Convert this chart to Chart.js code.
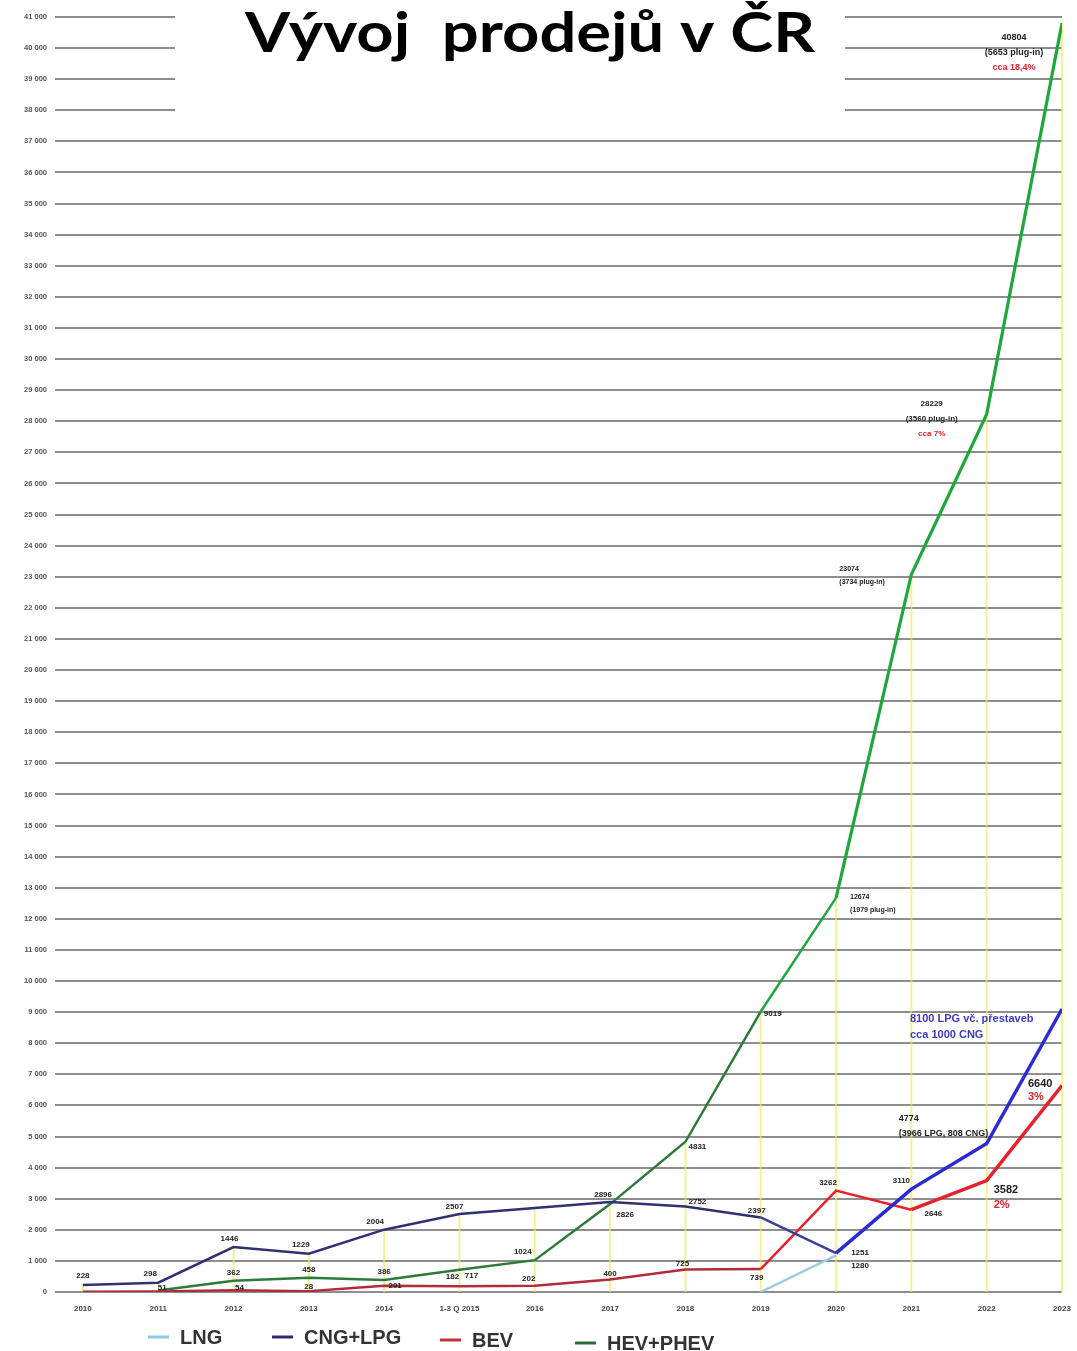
<!DOCTYPE html>
<html lang="cs">
<head>
    <meta charset="UTF-8">
    <title>Vývoj prodejů v ČR</title>
    <script src="https://cdn.jsdelivr.net/npm/chart.js"></script>
    <style>
        html, body { margin: 0; padding: 0; background: #fff; }
        #wrap { width: 1077px; height: 1351px; position: relative; }
    </style>
</head>
<body>
<div id="wrap"><canvas id="salesChart"></canvas></div>
<script>
    // categories
    const years = ['2010', '2011', '2012', '2013', '2014', '1-3 Q 2015', '2016', '2017', '2018', '2019', '2020', '2021', '2022', '2023'];

    // series values
    const lng    = [null, null, null, null, null, null, null, null, null, 0, 1180, null, null, null];
    const cngLpg = [228, 298, 1446, 1229, 2004, 2507, 2700, 2896, 2752, 2397, 1251, 3310, 4774, 9100];
    const bev    = [10, 20, 54, 28, 201, 182, 202, 400, 725, 739, 3262, 2646, 3582, 6640];
    const hev    = [null, 51, 362, 458, 386, 717, 1024, 2826, 4831, 9019, 12674, 23074, 28229, 40804];

    // texts written next to the points
    const lngLabels = [null, null, null, null, null, null, null, null, null, null, '1280', null, null, null];
    const cngLabels = ['228', '298', '1446', '1229', '2004', '2507', null, '2896', '2752', '2397', '1251', '3110',
        '4774\n(3966 LPG, 808 CNG)', '8100 LPG vč. přestaveb\ncca 1000 CNG'];
    const bevLabels = [null, null, '54', '28', '201', '182', '202', '400', '725', '739', '3262', '2646',
        '3582\n2%', '6640\n3%'];
    const hevLabels = [null, '51', '362', '458', '386', '717', '1024', '2826', '4831', '9019',
        '12674\n(1979 plug-in)', '23074\n(3734 plug-in)', '28229\n(3560 plug-in)\ncca 7%', '40804\n(5653 plug-in)\ncca 18,4%'];

    const seriesNames = ['LNG', 'CNG+LPG', 'BEV', 'HEV+PHEV'];
    const title = 'Vývoj  prodejů v ČR';

    const toPts = arr => arr.map((v, i) => ({ x: i, y: v }));

    // label placement: [dx, dy, align, fontSize, lineHeight, color]
    const place = {
        0: { 10: [24, 10] },
        1: { 0: [0, -9], 1: [-8, -9], 2: [-4, -8], 3: [-8, -9], 4: [-9, -8], 5: [-5, -7], 7: [-7, -7],
             8: [12, -5], 9: [-4, -7], 10: [24, 0], 11: [-10, -8],
             12: [-88, -25, 'left', 9, 15], 13: [-152, 10, 'left', 11, 16, '#3b3bc4'] },
        2: { 2: [6, -3], 3: [0, -4], 4: [11, 0], 5: [-7, -10], 6: [-6, -7], 7: [0, -6], 8: [-3, -6],
             9: [-4, 9], 10: [-8, -8], 11: [22, 4], 12: [7, 9, 'left', 11, 15], 13: [-34, -2, 'left', 11, 13] },
        3: { 1: [4, -3], 2: [0, -8], 3: [0, -8], 4: [0, -8], 5: [12, 6], 6: [-12, -8], 7: [15, 11],
             8: [12, 5], 9: [12, 2], 10: [14, -1, 'left', 7, 13], 11: [-72, -5, 'left', 7, 13],
             12: [-55, -10, 'center', 8, 15], 13: [-48, 14, 'center', 9, 15] }
    };
    const allLabels = [lngLabels, cngLabels, bevLabels, hevLabels];

    const dropLines = {
        id: 'dropLines',
        beforeDatasetsDraw(chart) {
            const { ctx, scales: { x, y }, chartArea } = chart;
            ctx.save();
            ctx.strokeStyle = 'rgba(240, 234, 90, 0.65)';
            ctx.lineWidth = 2;
            years.forEach((_, i) => {
                const vals = [lng[i], cngLpg[i], bev[i], hev[i]].filter(v => v !== null);
                const top = Math.max(...vals);
                const px = x.getPixelForValue(i);
                ctx.beginPath();
                ctx.moveTo(px, y.getPixelForValue(top));
                ctx.lineTo(px, chartArea.bottom);
                ctx.stroke();
            });
            // title box covering the grid
            ctx.fillStyle = '#fff';
            ctx.fillRect(175, 0, 670, 112);
            ctx.fillStyle = '#000';
            ctx.font = 'bold 55px Lato';
            const w = ctx.measureText(title).width;
            ctx.translate(530, 52);
            ctx.scale(570 / w, 1);
            ctx.textAlign = 'center';
            ctx.textBaseline = 'alphabetic';
            ctx.fillText(title, 0, 0);
            ctx.restore();
        }
    };

    const pointTexts = {
        id: 'pointTexts',
        afterDatasetsDraw(chart) {
            const ctx = chart.ctx;
            ctx.save();
            allLabels.forEach((labels, ds) => {
                const meta = chart.getDatasetMeta(ds);
                labels.forEach((txt, i) => {
                    if (!txt) return;
                    const el = meta.data[i];
                    const p = (place[ds] && place[ds][i]) || [0, -8];
                    const [dx, dy, align = 'center', size = 8, lh = 12, color = '#222'] = p;
                    ctx.textAlign = align;
                    ctx.textBaseline = 'middle';
                    txt.split('\n').forEach((line, k) => {
                        ctx.fillStyle = line.includes('%') ? '#e0202a' : color;
                        ctx.font = 'bold ' + size + 'px "Liberation Sans", Arial, sans-serif';
                        ctx.fillText(line, el.x + dx, el.y + dy + k * lh);
                    });
                });
            });
            ctx.restore();
        },
        afterDraw(chart) {
            // legend under the axis
            const ctx = chart.ctx;
            const xs = [148, 272, 440, 575];
            const ys = [1337, 1337, 1340, 1343];
            const cols = ['#8ec9e8', '#2b2d6e', '#c0303a', '#2e6b35'];
            ctx.save();
            ctx.font = 'bold 20px "Liberation Sans", Arial, sans-serif';
            ctx.textBaseline = 'middle';
            ctx.textAlign = 'left';
            seriesNames.forEach((name, k) => {
                ctx.strokeStyle = cols[k];
                ctx.lineWidth = 3;
                ctx.beginPath();
                ctx.moveTo(xs[k], ys[k]);
                ctx.lineTo(xs[k] + 21, ys[k]);
                ctx.stroke();
                ctx.fillStyle = '#333';
                ctx.fillText(name, xs[k] + 32, ys[k] + 1);
            });
            ctx.restore();
        }
    };

    new Chart(document.getElementById('salesChart'), {
        type: 'line',
        data: {
            datasets: [
                {
                    label: seriesNames[0], data: toPts(lng),
                    borderColor: '#9ccbe6', borderWidth: 2.5
                },
                {
                    label: seriesNames[1], data: toPts(cngLpg),
                    borderColor: '#2f3172', borderWidth: 2.5,
                    segment: {
                        borderColor: c => c.p0DataIndex >= 10 ? '#2a2ad6' : (c.p0DataIndex === 9 ? '#3d3f9c' : undefined),
                        borderWidth: c => c.p0DataIndex >= 10 ? 3.5 : undefined
                    }
                },
                {
                    label: seriesNames[2], data: toPts(bev),
                    borderColor: '#b02c3c', borderWidth: 2.5,
                    segment: {
                        borderColor: c => c.p0DataIndex >= 9 ? '#e8202a' : undefined,
                        borderWidth: c => c.p0DataIndex >= 11 ? 3.5 : undefined
                    }
                },
                {
                    label: seriesNames[3], data: toPts(hev),
                    borderColor: '#2e7a3a', borderWidth: 2.5,
                    segment: {
                        borderColor: c => c.p0DataIndex >= 9 ? '#1ea83c' : undefined,
                        borderWidth: c => c.p0DataIndex >= 10 ? 3.2 : undefined
                    }
                }
            ]
        },
        options: {
            responsive: true,
            maintainAspectRatio: false,
            animation: false,
            layout: { padding: { top: 17, right: 15, bottom: 0, left: 0 } },
            elements: { point: { radius: 0 }, line: { tension: 0 } },
            plugins: { legend: { display: false }, tooltip: { enabled: false } },
            scales: {
                x: {
                    type: 'linear',
                    min: -0.37,
                    max: 13,
                    afterFit: s => { s.height = 59; },
                    grid: { display: false },
                    border: { display: false },
                    ticks: {
                        stepSize: 1,
                        includeBounds: false,
                        autoSkip: false,
                        maxRotation: 0,
                        padding: 4,
                        color: '#444',
                        font: { size: 8, weight: 'bold', family: '"Liberation Sans", Arial' },
                        callback: v => Number.isInteger(v) ? years[v] : ''
                    }
                },
                y: {
                    min: 0,
                    max: 41000,
                    afterFit: s => { s.width = 55; },
                    border: { display: false },
                    grid: { color: '#8e8e8e', lineWidth: 2, drawTicks: false },
                    ticks: {
                        stepSize: 1000,
                        padding: 8,
                        color: '#555',
                        font: { size: 7.5, weight: 'bold', family: '"Liberation Sans", Arial' },
                        callback: v => v === 0 ? '0' : (v / 1000) + ' 000'
                    }
                }
            }
        },
        plugins: [dropLines, pointTexts]
    });
</script>
</body>
</html>
